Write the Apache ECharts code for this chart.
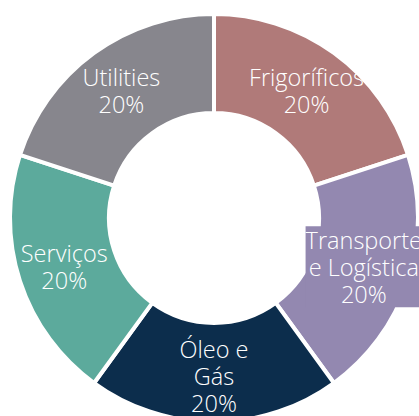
<!DOCTYPE html>
<html>
<head>
<meta charset="utf-8">
<script src="https://cdn.jsdelivr.net/npm/echarts@6/dist/echarts.min.js"></script>
<style>
  html, body { margin: 0; padding: 0; background: #fff; }
  #chart { width: 419px; height: 416px; }
</style>
</head>
<body>
<div id="chart"></div>
<script>
const categories = ['Frigoríficos', 'Transporte e Logística', 'Óleo e Gás', 'Serviços', 'Utilities'];
const labelLines = ['Frigoríficos', 'Transporte\ne Logística', 'Óleo e\nGás', 'Serviços', 'Utilities'];
const values = [20, 20, 20, 20, 20];
const colors = ['#B07A79', '#9388B0', '#0C2D4C', '#5CAA9C', '#87868D'];

const chart = echarts.init(document.getElementById('chart'), null, { renderer: 'svg' });

const data = categories.map((name, i) => ({
  name,
  value: values[i],
  itemStyle: { color: colors[i] },
  // only the wide label spills past its slice, with a box in the slice colour
  label: i === 1 ? { backgroundColor: colors[i] } : {}
}));

chart.setOption({
  animation: false,
  series: [{
    type: 'pie',
    center: [214, 218],
    radius: [105, 204],
    startAngle: 90,
    clockwise: true,
    data,
    itemStyle: { borderColor: '#fff', borderWidth: 4 },
    label: {
      show: true,
      position: 'inside',
      color: '#fff',
      fontFamily: 'Open Sans',
      fontWeight: 300,
      fontSize: 23.5,
      lineHeight: 27,
      formatter: p => labelLines[p.dataIndex] + '\n' + p.value + '%'
    },
    labelLine: { show: false },
    emphasis: { disabled: true }
  }]
});
</script>
</body>
</html>
